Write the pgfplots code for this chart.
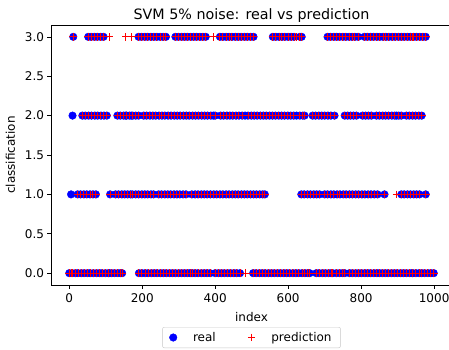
\documentclass[border=0pt]{standalone}
\usepackage{pgfplots}
\pgfplotsset{compat=1.18}
\usepackage{pgfplotstable}
\usepackage{fontspec}
\setmainfont{DejaVu Sans}
\pgfplotstableread[row sep=\\]{
x r p\\
0 0 0\\ 8 0 0\\ 17 0 0\\ 24 0 0\\ 33 0 0\\ 41 0 0\\ 50 0 0\\ 57 0 0\\ 66 0 0\\ 75 0 0\\ 83 0 0\\ 90 0 0\\ 99 0 0\\ 108 0 0\\ 116 0 0\\ 124 0 0\\ 133 0 0\\ 140 0 0\\ 145 0 0\\
191 0 0\\ 199 0 0\\ 208 0 0\\ 216 0 0\\ 225 0 0\\ 233 0 0\\ 241 0 0\\ 250 0 0\\ 258 0 0\\ 266 0 0\\ 275 0 0\\ 283 0 0\\ 291 0 0\\ 300 0 0\\ 308 0 0\\ 316 0 0\\ 324 0 0\\ 331 0 0\\ 337 0 0\\
345 0 0\\ 353 0 0\\ 362 0 0\\ 370 0 0\\ 378 0 0\\ 386 0 0\\
400 0 0\\ 409 0 0\\ 417 0 0\\ 425 0 0\\ 434 0 0\\ 442 0 0\\ 451 0 0\\ 459 0 0\\ 468 0 0\\
504 0 0\\ 512 0 0\\ 521 0 0\\ 529 0 0\\ 537 0 0\\ 546 0 0\\ 554 0 0\\ 562 0 0\\ 571 0 0\\ 579 0 0\\ 588 0 0\\ 596 0 0\\ 604 0 0\\ 613 0 0\\ 621 0 0\\ 629 0 0\\ 638 0 0\\ 646 0 0\\ 654 0 0\\ 659 0 0\\
677 0 0\\ 685 0 0\\ 694 0 0\\ 702 0 0\\ 711 0 0\\ 718 0 0\\ 722 0 0\\
732 0 0\\ 741 0 0\\ 749 0 0\\ 755 0 0\\
768 0 0\\ 776 0 0\\ 785 0 0\\ 793 0 0\\ 801 0 0\\ 810 0 0\\ 818 0 0\\ 826 0 0\\ 835 0 0\\ 843 0 0\\ 850 0 0\\
858 0 0\\ 866 0 0\\ 874 0 0\\ 883 0 0\\ 891 0 0\\ 899 0 0\\ 908 0 0\\ 916 0 0\\ 924 0 0\\ 933 0 0\\ 941 0 0\\ 950 0 0\\ 959 0 0\\
966 0 0\\ 974 0 0\\ 983 0 0\\ 991 0 0\\ 999 0 0\\
5 1 0\\
23 1 1\\ 31 1 1\\ 40 1 1\\ 48 1 1\\ 57 1 1\\ 65 1 1\\ 73 1 1\\
112 1 1\\
127 1 1\\ 135 1 1\\ 144 1 1\\ 152 1 1\\ 160 1 1\\ 168 1 1\\ 173 1 1\\
182 1 1\\ 190 1 1\\ 199 1 1\\ 207 1 1\\ 215 1 1\\ 224 1 1\\ 231 1 1\\
245 1 1\\ 253 1 1\\ 262 1 1\\ 270 1 1\\ 278 1 1\\ 287 1 1\\ 295 1 1\\ 303 1 1\\ 312 1 1\\ 320 1 1\\
336 1 1\\ 345 1 1\\ 353 1 1\\ 362 1 1\\ 370 1 1\\ 378 1 1\\ 387 1 1\\ 396 1 1\\ 404 1 1\\ 413 1 1\\ 421 1 1\\ 430 1 1\\ 438 1 1\\ 447 1 1\\ 455 1 1\\ 463 1 1\\ 472 1 1\\ 480 1 1\\ 488 1 1\\ 497 1 1\\ 505 1 1\\ 513 1 1\\ 522 1 1\\ 530 1 1\\ 536 1 1\\
636 1 1\\ 644 1 1\\ 653 1 1\\ 661 1 1\\ 670 1 1\\ 678 1 1\\ 686 1 1\\
700 1 1\\ 708 1 1\\ 717 1 1\\ 725 1 1\\ 734 1 1\\ 742 1 1\\ 751 1 1\\ 759 1 1\\ 768 1 1\\ 776 1 1\\ 785 1 1\\ 793 1 1\\ 802 1 1\\ 810 1 1\\ 819 1 1\\ 827 1 1\\ 836 1 1\\ 845 1 1\\
864 1 1\\
910 1 1\\ 918 1 1\\ 927 1 1\\ 935 1 1\\ 944 1 1\\ 952 1 1\\ 960 1 1\\
977 1 1\\
9 2 0\\
36 2 2\\ 44 2 2\\ 53 2 2\\ 61 2 2\\ 70 2 2\\ 78 2 2\\ 87 2 2\\ 95 2 2\\ 103 2 2\\
132 2 2\\ 140 2 2\\ 149 2 2\\ 155 2 3\\ 157 2 2\\ 165 2 2\\ 170 2 3\\ 174 2 2\\ 182 2 2\\ 190 2 2\\
204 2 2\\ 212 2 2\\ 221 2 2\\ 229 2 2\\ 237 2 2\\ 246 2 2\\ 254 2 2\\ 262 2 2\\ 271 2 2\\ 279 2 2\\ 288 2 2\\ 296 2 2\\ 304 2 2\\ 313 2 2\\ 321 2 2\\ 329 2 2\\ 338 2 2\\ 346 2 2\\ 354 2 2\\ 363 2 2\\ 371 2 2\\ 379 2 2\\ 388 2 2\\ 395 2 3\\ 400 2 2\\
415 2 2\\ 423 2 2\\ 432 2 2\\ 440 2 2\\ 448 2 2\\ 457 2 2\\ 465 2 2\\ 474 2 2\\ 482 2 0\\ 490 2 2\\ 499 2 2\\ 507 2 2\\ 515 2 2\\ 524 2 2\\ 532 2 2\\ 540 2 2\\ 549 2 2\\ 557 2 2\\ 565 2 2\\ 574 2 2\\ 582 2 2\\ 590 2 2\\ 599 2 2\\ 607 2 2\\ 615 2 2\\ 623 2 3\\ 632 2 2\\ 640 2 2\\ 645 2 2\\
667 2 2\\ 675 2 2\\ 684 2 2\\ 692 2 2\\ 700 2 2\\ 709 2 2\\ 717 2 2\\ 727 2 2\\
755 2 2\\ 763 2 2\\ 771 2 2\\ 779 2 2\\ 787 2 2\\
804 2 2\\ 812 2 2\\ 820 2 2\\ 828 2 2\\
842 2 2\\ 850 2 2\\ 859 2 2\\ 867 2 2\\ 875 2 2\\ 884 2 2\\ 892 2 2\\ 897 2 1\\ 903 2 2\\ 910 2 2\\
924 2 2\\ 932 2 2\\ 941 2 2\\ 949 2 2\\ 958 2 2\\ 966 2 2\\
11 3 3\\
52 3 3\\ 60 3 3\\ 69 3 3\\ 77 3 3\\ 86 3 3\\ 94 3 3\\
109 0 3\\
190 3 3\\ 198 3 3\\ 207 3 3\\ 215 3 3\\ 224 3 3\\ 232 3 3\\ 240 3 3\\ 249 3 3\\ 257 3 3\\ 265 3 3\\
291 3 3\\ 299 3 3\\ 308 3 3\\ 316 3 3\\ 324 3 3\\ 333 3 3\\ 341 3 3\\ 349 3 3\\ 358 3 3\\ 366 3 3\\ 374 3 3\\
413 3 3\\ 421 3 3\\ 430 3 3\\ 438 3 3\\ 446 3 3\\ 455 3 3\\ 463 3 3\\ 471 3 3\\ 480 3 3\\ 488 3 3\\ 497 3 3\\ 505 3 3\\
558 3 3\\ 566 3 3\\ 575 3 3\\ 583 3 3\\ 591 3 3\\ 600 3 3\\ 608 3 3\\ 616 3 3\\ 632 3 3\\ 637 3 3\\
708 3 3\\ 716 3 3\\ 725 3 3\\ 733 3 3\\ 741 3 3\\ 750 3 3\\ 758 3 3\\ 767 3 3\\ 775 3 3\\ 783 3 3\\ 792 3 3\\
809 3 3\\ 817 3 3\\ 826 3 3\\ 834 3 3\\ 843 3 3\\ 851 3 3\\ 860 3 3\\ 868 3 3\\ 876 3 3\\ 885 3 3\\ 893 3 3\\ 902 3 3\\ 910 3 3\\ 918 3 3\\ 927 3 3\\ 935 3 3\\ 940 0 3\\ 944 3 3\\ 952 3 3\\ 961 3 3\\ 969 3 3\\ 977 3 3\\
}\data
\begin{document}
\begin{tikzpicture}
\useasboundingbox (-51pt,-65pt) rectangle (398pt,285pt);
\begin{axis}[
  scale only axis, width=401pt, height=260pt,
  xmin=-50, xmax=1049, ymin=-0.15, ymax=3.15,
  xtick={0,200,400,600,800,1000},
  ytick={0,0.5,1,1.5,2,2.5,3},
  xticklabel style={/pgf/number format/.cd, 1000 sep={}, /tikz/.cd, yshift=-2pt},
  yticklabel style={/pgf/number format/.cd, fixed, fixed zerofill, precision=1},
  /pgf/number format/assume math mode=true,
  tick label style={font=\fontsize{12}{14}\selectfont},
  label style={font=\fontsize{12}{14}\selectfont},
  xtick pos=bottom, ytick pos=left, tick align=outside,
  major tick length=3.5pt, tick style={black, line width=0.6pt},
  axis line style={line width=0.8pt},
  xlabel={index}, ylabel={classification},
  xlabel style={yshift=-2pt},
  ylabel style={yshift=3pt},
  title={SVM 5\% noise: real vs prediction},
  title style={font=\fontsize{14.3}{16}\selectfont, at={(0.5,1)}, anchor=base, yshift=-1pt},
  legend columns=2,
  legend style={at={(axis description cs:0.5,0)}, anchor=north, yshift=-42pt,
    font=\fontsize{12}{14}\selectfont, draw=black!22, rounded corners=2pt,
    /tikz/column 1/.style={column sep=14pt},
    /tikz/column 2/.style={column sep=30pt},
    /tikz/column 3/.style={column sep=14pt},
    inner xsep=7pt, inner ysep=3pt},
  legend cell align=left,
]
\addplot[only marks, mark=*, mark size=3.8pt, color=blue, mark options={fill=blue, draw=blue}] table[x=x, y=r] {\data};
\addlegendentry{real}
\addplot[only marks, mark=+, mark size=3.8pt, color=red, draw=red, mark options={draw=red, line width=1pt}] table[x=x, y=p] {\data};
\addlegendentry{prediction}
\end{axis}
\end{tikzpicture}
\end{document}
